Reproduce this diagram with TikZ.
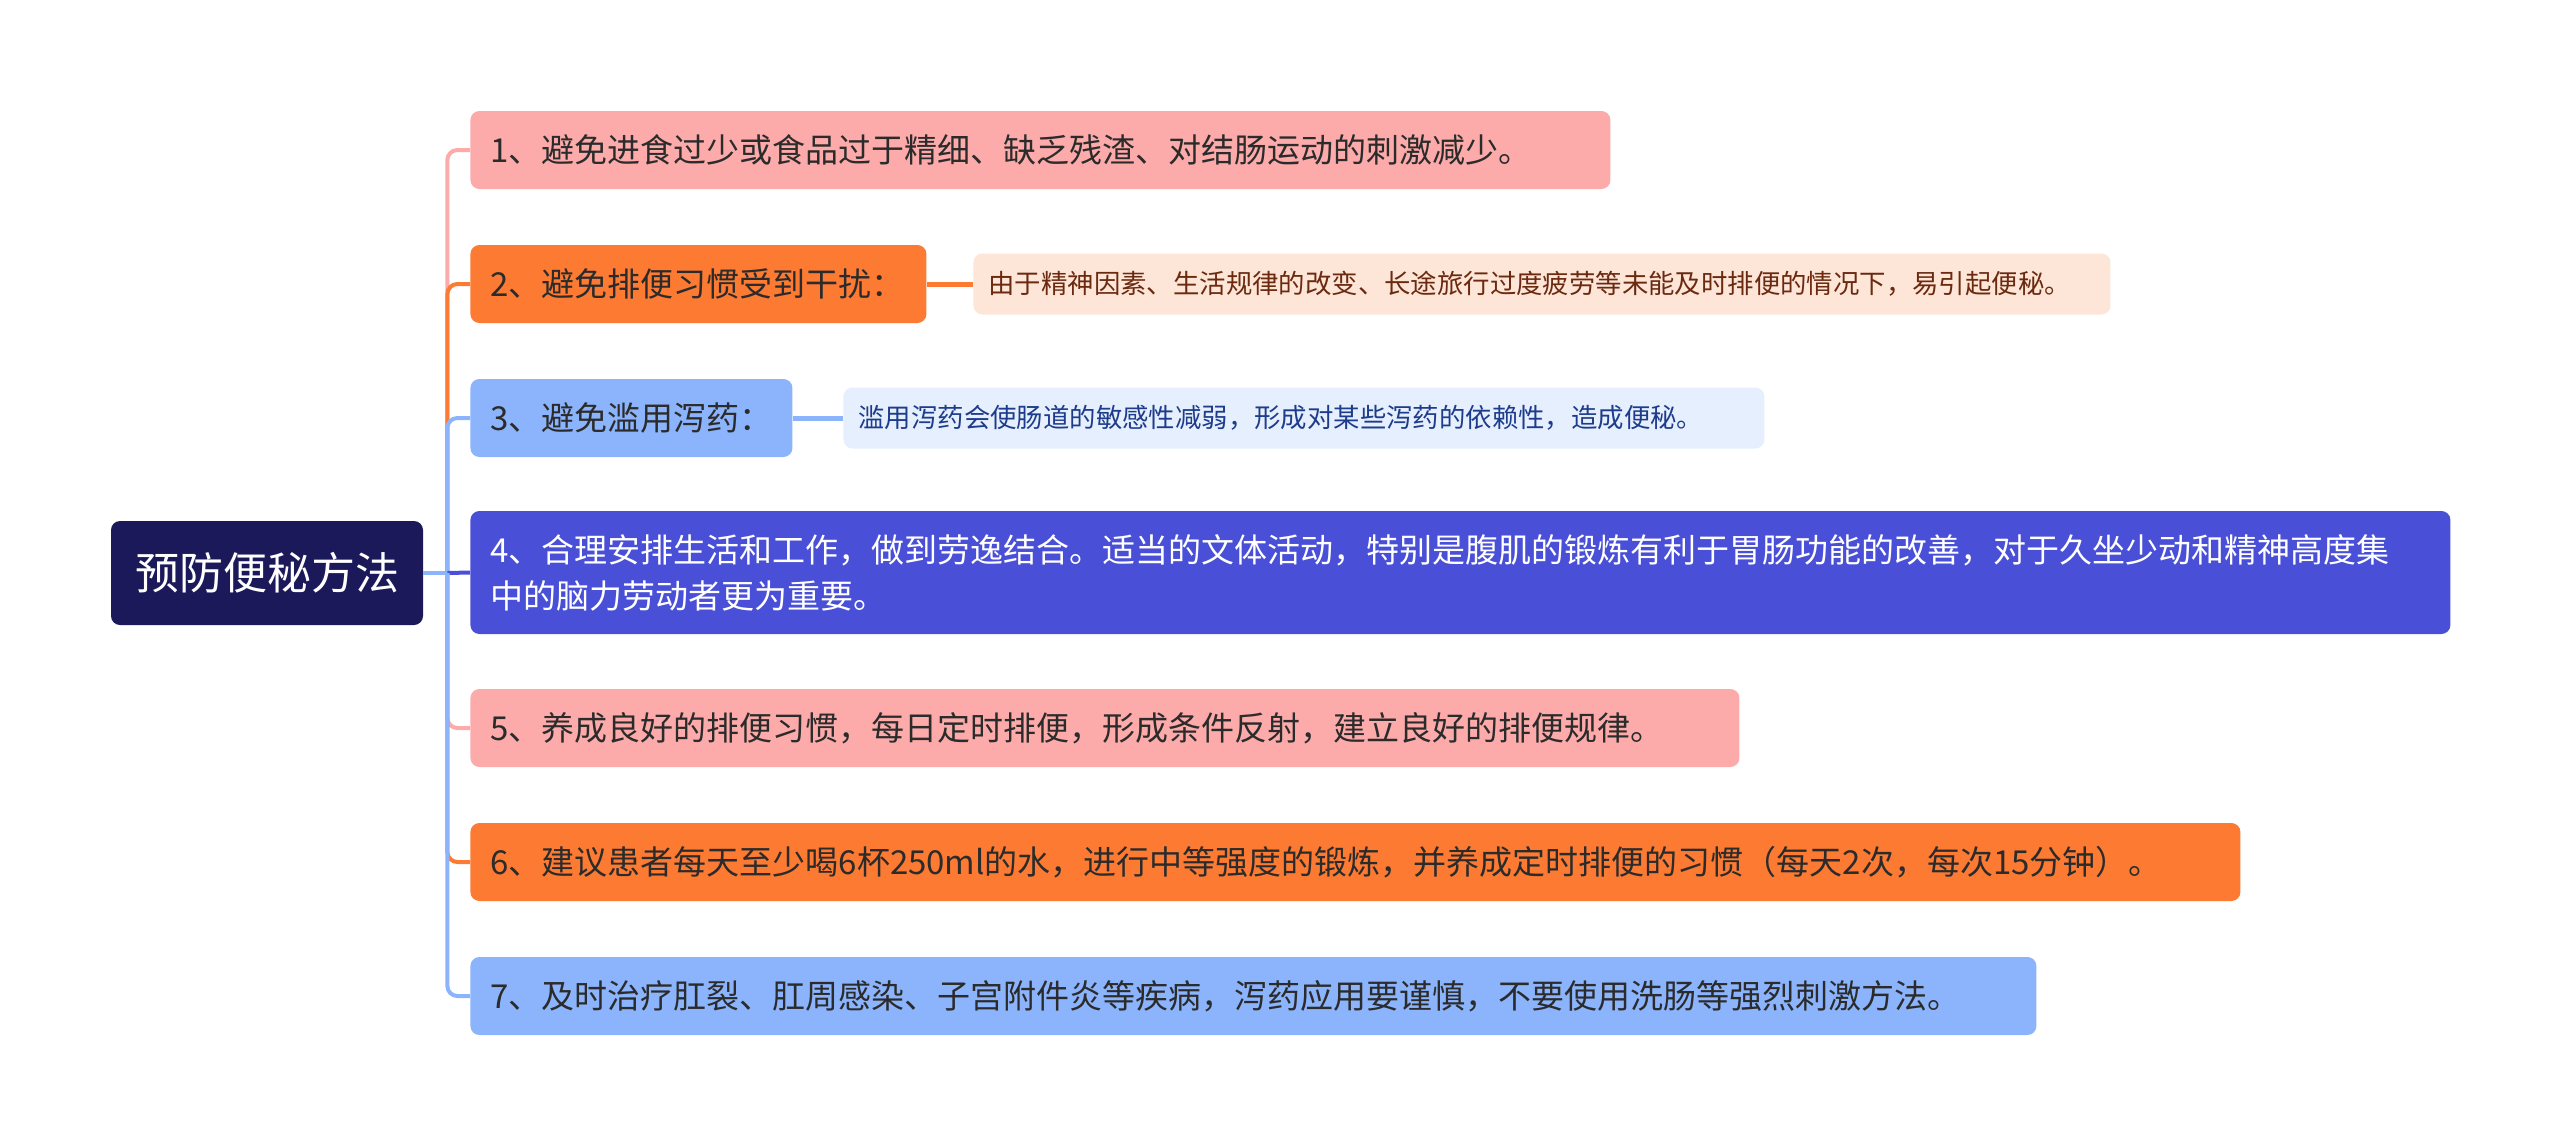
\documentclass[tikz,border=0pt]{standalone}
\usepackage{fontspec}
\newfontfamily\cjk{Noto Sans CJK SC}
\definecolor{rootfill}{HTML}{1B195A}
\definecolor{pinkfill}{HTML}{FCABAA}
\definecolor{orangefill}{HTML}{FC7A32}
\definecolor{bluefill}{HTML}{8BB4FC}
\definecolor{violetfill}{HTML}{4950D7}
\definecolor{peachfill}{HTML}{FDE5D8}
\definecolor{icefill}{HTML}{E6EFFD}
\definecolor{maintext}{HTML}{2B2B2B}
\definecolor{browntext}{HTML}{6B2A10}
\definecolor{navytext}{HTML}{1E3C8C}

\begin{document}
\begin{tikzpicture}[x=0.5pt,y=-0.5pt,
    root/.style={fill=rootfill, text=white, rounded corners=4.5pt, inner sep=0pt,
        minimum width=156pt, minimum height=52pt, font=\cjk\fontsize{22}{26}\selectfont},
    topic/.style={anchor=west, rounded corners=4.5pt, inner xsep=10pt, inner ysep=0pt,
        minimum height=39pt, align=left, text=maintext, font=\cjk\fontsize{16.5}{23}\selectfont},
    note/.style={anchor=west, rounded corners=4.5pt, inner xsep=7.5pt, inner ysep=0pt,
        minimum height=30.5pt, align=left, font=\cjk\fontsize{13.2}{16}\selectfont},
    link/.style={line width=2pt, rounded corners=5pt},
    sublink/.style={line width=2.5pt}]

    \useasboundingbox (0,0) rectangle (2560,1146);

    % centre
    \node[root] (root) at (267,573) {预防便秘方法};

    % branches
    \node[topic, fill=pinkfill, text width=550pt] (b1) at (470,150)
        {1、避免进食过少或食品过于精细、缺乏残渣、对结肠运动的刺激减少。};
    \node[topic, fill=orangefill, text width=208pt] (b2) at (470,284)
        {2、避免排便习惯受到干扰：};
    \node[topic, fill=bluefill, text width=141pt] (b3) at (470,418)
        {3、避免滥用泻药：};
    \node[topic, fill=violetfill, text=white, text width=970pt, minimum height=61.5pt] (b4) at (470,572.5)
        {4、合理安排生活和工作，做到劳逸结合。适当的文体活动，特别是腹肌的锻炼有利于胃肠功能的改善，对于久坐少动和精神高度集\\中的脑力劳动者更为重要。};
    \node[topic, fill=pinkfill, text width=614.5pt] (b5) at (470,728)
        {5、养成良好的排便习惯，每日定时排便，形成条件反射，建立良好的排便规律。};
    \node[topic, fill=orangefill, text width=865pt] (b6) at (470,862)
        {6、建议患者每天至少喝6杯250ml的水，进行中等强度的锻炼，并养成定时排便的习惯（每天2次，每次15分钟）。};
    \node[topic, fill=bluefill, text width=763pt] (b7) at (470,996)
        {7、及时治疗肛裂、肛周感染、子宫附件炎等疾病，泻药应用要谨慎，不要使用洗肠等强烈刺激方法。};

    % notes
    \node[note, fill=peachfill, text=browntext, text width=553.5pt] (s2) at (973,284)
        {由于精神因素、生活规律的改变、长途旅行过度疲劳等未能及时排便的情况下，易引起便秘。};
    \node[note, fill=icefill, text=navytext, text width=445.5pt] (s3) at (843,418)
        {滥用泻药会使肠道的敏感性减弱，形成对某些泻药的依赖性，造成便秘。};

    % connectors
    \coordinate (hub) at ([xshift=12pt]root.east);
    \draw[link, pinkfill] (hub) |- (b1.west);
    \draw[link, orangefill] (hub) |- (b2.west);
    \draw[link, bluefill] (hub) |- (b3.west);
    \draw[link, violetfill] (hub) -- (b4.west);
    \draw[link, pinkfill] (hub) |- (b5.west);
    \draw[link, orangefill] (hub) |- (b6.west);
    \draw[link, bluefill] (hub) |- (b7.west);
    \draw[link, bluefill] (root.east) -- (hub);

    \draw[sublink, orangefill] (b2.east) -- (s2.west);
    \draw[sublink, bluefill] (b3.east) -- (s3.west);
\end{tikzpicture}
\end{document}
